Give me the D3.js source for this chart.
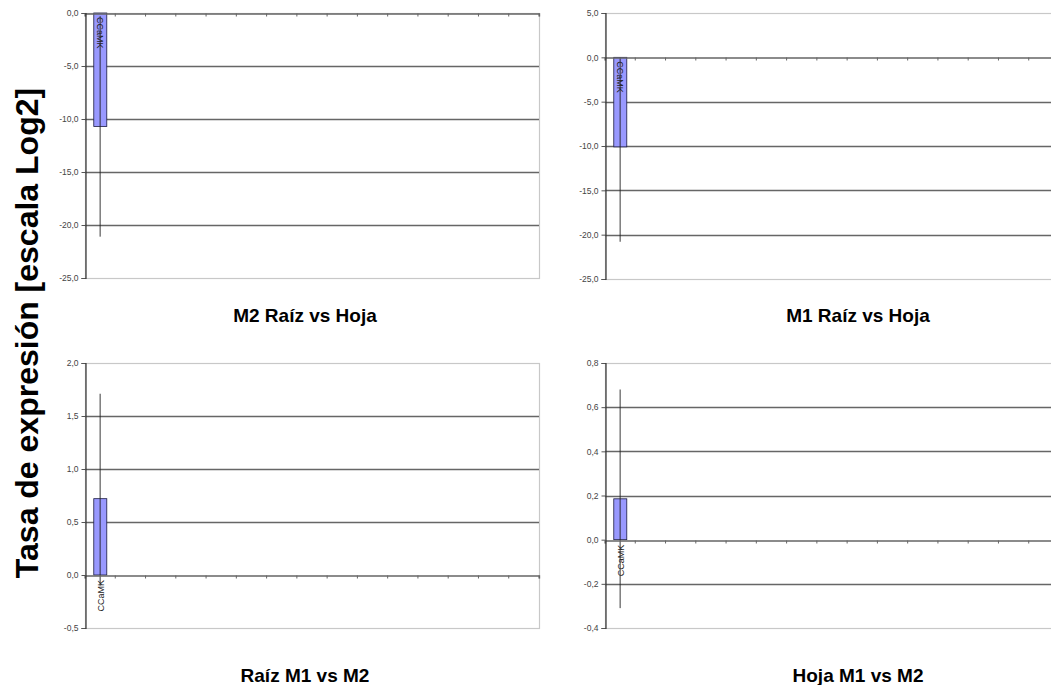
<!DOCTYPE html>
<html>
<head>
<meta charset="utf-8">
<script src="https://cdn.jsdelivr.net/npm/d3@7"></script>
<style>
  body { margin: 0; background: #fff; }
  svg { display: block; font-family: "Liberation Sans", Arial, sans-serif; }
</style>
</head>
<body>
<script>
// DATA
var categories = ["CCaMK", "c2", "c3", "c4", "c5", "c6", "c7", "c8", "c9", "c10", "c11", "c12", "c13", "c14", "c15"];
var catLabels = ["CCaMK", "", "", "", "", "", "", "", "", "", "", "", "", "", ""];
var titles = ["M2 Raíz vs Hoja", "M1 Raíz vs Hoja", "Raíz M1 vs M2", "Hoja M1 vs M2"];
var values = [-10.7, -10.1, 0.72, 0.185];
var errLow = [-21.1, -20.8, -0.1, -0.31];
var errHigh = [-0.3, 0.0, 1.71, 0.68];
var yDomains = [[-25, 0], [-25, 5], [-0.5, 2], [-0.4, 0.8]];
var yTicks = [
  [0, -5, -10, -15, -20, -25],
  [5, 0, -5, -10, -15, -20, -25],
  [2, 1.5, 1, 0.5, 0, -0.5],
  [0.8, 0.6, 0.4, 0.2, 0, -0.2, -0.4]
];
var yTitle = "Tasa de expresión [escala Log2]";

//GENERAL VARIABLES
var width = 1051, height = 685;
var boxes = [
  {x0: 85, x1: 539, y0: 13, y1: 278, tx: 305, ty: 322},
  {x0: 605, x1: 1059, y0: 13, y1: 279, tx: 858, ty: 322},
  {x0: 85, x1: 539, y0: 363, y1: 628, tx: 305, ty: 682},
  {x0: 605, x1: 1059, y0: 363, y1: 628, tx: 858, ty: 682}
];

var svg = d3.select("body").append("svg")
    .attr("width", width)
    .attr("height", height);

var fmt = function(v) { return v.toFixed(1).replace(".", ","); };

boxes.forEach(function(b, i) {
    var x = d3.scaleBand().domain(categories).range([b.x0, b.x1]).paddingInner(0).paddingOuter(0);
    var y = d3.scaleLinear().domain(yDomains[i]).range([b.y1, b.y0]);
    var g = svg.append("g");

    // plot area border
    g.append("rect")
        .attr("x", b.x0 + 0.5).attr("y", b.y0 + 0.5)
        .attr("width", b.x1 - b.x0).attr("height", b.y1 - b.y0)
        .attr("fill", "#fff").attr("stroke", "#c8c8c8").attr("stroke-width", 1.2);

    // gridlines (not on the border)
    g.selectAll(".grid").data(yTicks[i].filter(function(t) {
            return t !== yDomains[i][0] && t !== yDomains[i][1] && t !== 0; }))
        .enter().append("line")
        .attr("x1", b.x0).attr("x2", b.x1)
        .attr("y1", function(d) { return Math.round(y(d)) + 0.5; })
        .attr("y2", function(d) { return Math.round(y(d)) + 0.5; })
        .attr("stroke", "#666").attr("stroke-width", 1.3);

    // bars
    g.selectAll(".bar").data([0])
        .enter().append("rect")
        .attr("x", x(categories[0]) + x.bandwidth() * 0.29)
        .attr("width", x.bandwidth() * 0.43)
        .attr("y", Math.min(y(values[i]), y(0)))
        .attr("height", Math.abs(y(values[i]) - y(0)))
        .attr("fill", "#9999ff").attr("stroke", "#1a1a40").attr("stroke-width", 0.8);

    // error bar
    var cx = x(categories[0]) + x.bandwidth() / 2;
    g.append("line")
        .attr("x1", cx).attr("x2", cx)
        .attr("y1", y(errLow[i])).attr("y2", y(errHigh[i]))
        .attr("stroke", "#222").attr("stroke-width", 0.9);

    // x axis at zero
    var xAxis = d3.axisBottom(x).tickSize(3).tickFormat("");
    var xa = g.append("g")
        .attr("transform", "translate(0," + (Math.round(y(0)) + 0.5) + ")")
        .call(xAxis);
    xa.select(".domain").attr("stroke", "#666").attr("stroke-width", 1.3);
    xa.selectAll(".tick").remove();
    xa.selectAll(".btick").data(d3.range(categories.length + 1))
        .enter().append("line")
        .attr("x1", function(d) { return b.x0 + d * x.step(); })
        .attr("x2", function(d) { return b.x0 + d * x.step(); })
        .attr("y1", 0).attr("y2", 3)
        .attr("stroke", "#666");

    // category labels, rotated
    var down = yDomains[i][1] <= 5 && values[i] < 0;
    g.selectAll(".clab").data(categories)
        .enter().append("text")
        .attr("transform", function(d) {
            var c = x(d) + x.bandwidth() / 2;
            return down
                ? "translate(" + (c - 3.5) + "," + (y(0) + 4) + ") rotate(90)"
                : "translate(" + (c + 3.5) + "," + (y(0) + 5) + ") rotate(-90)";
        })
        .attr("text-anchor", down ? "start" : "end")
        .attr("font-size", 9).attr("fill", "#222")
        .text(function(d, k) { return catLabels[k]; });

    // y axis
    var yAxis = d3.axisLeft(y).tickValues(yTicks[i]).tickSize(4)
        .tickFormat(function(d) { return fmt(d); });
    var ya = g.append("g")
        .attr("transform", "translate(" + (b.x0 + 0.5) + ",0)")
        .call(yAxis);
    ya.select(".domain").attr("stroke", "#333").attr("stroke-width", 1.2);
    ya.selectAll(".tick line").attr("stroke", "#555");
    ya.selectAll(".tick text").attr("font-size", 8.5).attr("fill", "#444")
        .attr("font-family", "Liberation Sans, Arial, sans-serif");

    // panel title
    svg.append("text")
        .attr("x", b.tx).attr("y", b.ty)
        .attr("text-anchor", "middle")
        .attr("font-size", 19).attr("font-weight", "bold")
        .attr("fill", "#000")
        .text(titles[i]);
});

// shared y title
svg.append("text")
    .attr("transform", "translate(38,333) rotate(-90)")
    .attr("text-anchor", "middle")
    .attr("font-size", 32).attr("font-weight", "bold")
    .text(yTitle);
</script>
</body>
</html>
